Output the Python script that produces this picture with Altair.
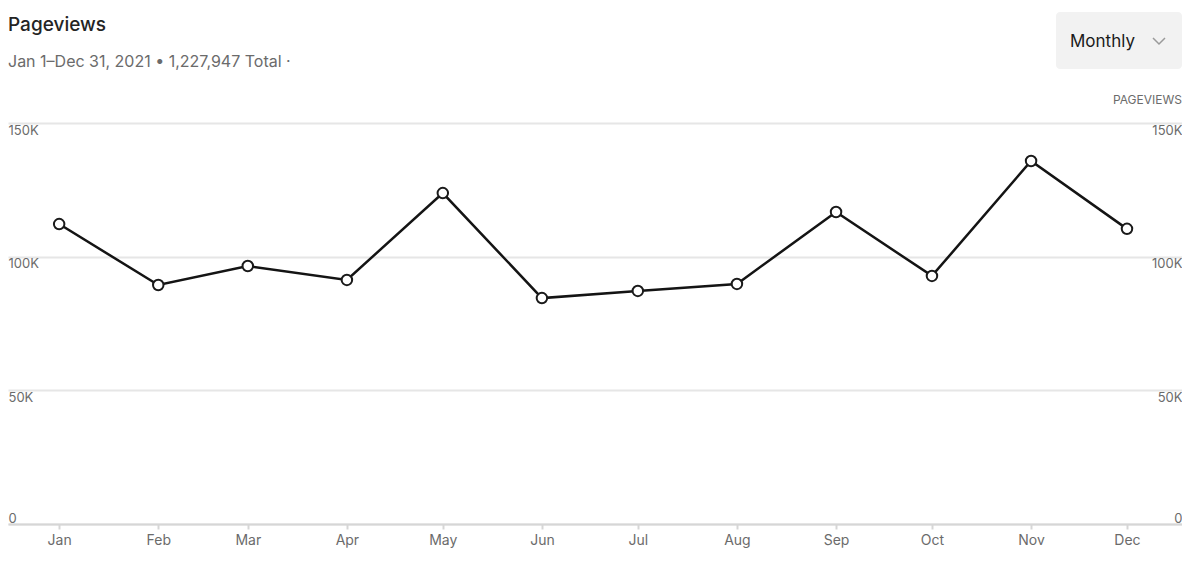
import altair as alt
import pandas as pd

# ---- data ----
dates = ["2021-01-01", "2021-02-01", "2021-03-01", "2021-04-01", "2021-05-01", "2021-06-01",
         "2021-07-01", "2021-08-01", "2021-09-01", "2021-10-01", "2021-11-01", "2021-12-01"]
pageviews = [112200, 89400, 96500, 91300, 123800, 84500,
             87200, 89800, 116700, 92800, 135800, 110400]
y_ticks = [0, 50000, 100000, 150000]

title_text = "Pageviews"
subtitle_text = "Jan 1\u2013Dec 31, 2021 \u2022 1,227,947 Total \u00b7"
dropdown_text = "Monthly"
axis_title_text = "PAGEVIEWS"

df = pd.DataFrame({"date": dates, "views": pageviews})
dummy = pd.DataFrame({"a": [0]})

FONT = "Inter"
GREY = "#6b6b6b"

x_enc = alt.X(
    "date:T",
    scale=alt.Scale(
        type="utc",
        domain=[alt.DateTime(year=2020, month=12, date=16, utc=True),
                alt.DateTime(year=2021, month=12, date=18, hours=5, utc=True)],
    ),
    axis=alt.Axis(
        title=None,
        values=[alt.DateTime(year=2021, month=m, date=1, utc=True) for m in range(1, 13)],
        format="%b",
        grid=False,
        domain=True,
        domainColor="#d6d6d6",
        domainWidth=2,
        ticks=True,
        tickColor="#d6d6d6",
        tickWidth=2,
        tickSize=5,
        labelColor=GREY,
        labelFontSize=14,
        labelPadding=4,
        labelFont=FONT,
    ),
)

y_scale = alt.Scale(domain=[0, 150000], nice=False)
label_expr = "datum.value == 0 ? '0' : format(datum.value / 1000, 'd') + 'K'"
baseline_cond = {"condition": {"test": "datum.value == 0", "value": "bottom"}, "value": "top"}

y_left = alt.Y(
    "views:Q",
    scale=y_scale,
    axis=alt.Axis(
        orient="left",
        title=None,
        values=y_ticks,
        labelExpr=label_expr,
        domain=False,
        ticks=False,
        grid=True,
        gridColor="#e6e6e6",
        gridWidth=2,
        labelAlign="left",
        labelBaseline=baseline_cond,
        labelPadding=0,
        labelOffset=1,
        labelColor=GREY,
        labelFontSize=13,
        labelFont=FONT,
    ),
)
y_right = alt.Y(
    "views:Q",
    scale=y_scale,
    axis=alt.Axis(
        orient="right",
        title=None,
        values=y_ticks,
        labelExpr=label_expr,
        domain=False,
        ticks=False,
        grid=False,
        labelAlign="right",
        labelBaseline=baseline_cond,
        labelPadding=0,
        labelOffset=1,
        labelColor=GREY,
        labelFontSize=13,
        labelFont=FONT,
    ),
)

base = alt.Chart(df)
line = base.mark_line(color="#141414", strokeWidth=2.5).encode(x=x_enc, y=y_left)
points = base.mark_point(
    filled=True, fill="white", stroke="#1a1a1a", strokeWidth=2, size=110, opacity=1
).encode(x=x_enc, y=y_right)

ann = alt.Chart(dummy)
title_mark = ann.mark_text(
    text=title_text, align="left", baseline="alphabetic", fontSize=19, fontWeight=500,
    color="#242424", font=FONT
).encode(x=alt.value(0), y=alt.value(-92))
subtitle_mark = ann.mark_text(
    text=subtitle_text, align="left", baseline="alphabetic", fontSize=16,
    color=GREY, font=FONT
).encode(x=alt.value(0), y=alt.value(-56))
box = ann.mark_rect(fill="#f2f2f2", cornerRadius=4).encode(
    x=alt.value(1048), x2=alt.value(1174), y=alt.value(-111), y2=alt.value(-54)
)
dropdown = ann.mark_text(
    text=dropdown_text, align="left", baseline="middle", fontSize=17,
    color="#1a1a1a", font=FONT
).encode(x=alt.value(1062), y=alt.value(-81))
chevron = ann.mark_point(
    shape="M-1,-0.5L0,0.5L1,-0.5", filled=False, stroke="#9a9a9a", strokeWidth=1.5,
    size=144, opacity=1
).encode(x=alt.value(1151), y=alt.value(-82))
axis_title = ann.mark_text(
    text=axis_title_text, align="right", baseline="middle", fontSize=12,
    color=GREY, font=FONT
).encode(x=alt.value(1174), y=alt.value(-23))

chart = (
    alt.layer(line, points, title_mark, subtitle_mark, box, dropdown, chevron, axis_title)
    .resolve_axis(y="independent")
    .properties(
        width=1174,
        height=401,
        padding={"left": 0, "top": 115, "right": 0, "bottom": 40},
        autosize=alt.AutoSizeParams(type="none"),
        view=alt.ViewBackground(stroke="transparent", strokeWidth=0),
    )
    .configure_view(stroke="transparent", strokeWidth=0)
    .configure_axis(domain=False)
    .configure_axisY(domain=False, ticks=False)
    .configure(font=FONT, background="white")
)

chart.save("out.html", embed_options={"renderer": "svg", "actions": False})
